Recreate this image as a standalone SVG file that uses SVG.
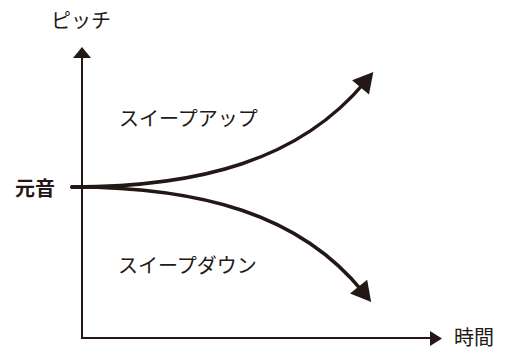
<svg xmlns="http://www.w3.org/2000/svg" width="505" height="351" viewBox="0 0 505 351">
<style>
.lbl{font-family:"Noto Sans CJK JP","Noto Sans CJK SC",sans-serif;font-size:20px;fill:#231815}
.axis{stroke:#231815;stroke-width:2;fill:none}
.curve{stroke:#231815;stroke-width:3.5;fill:none;stroke-linecap:round}
.head{fill:#231815}
</style>
<defs>
<marker id="arr" markerUnits="userSpaceOnUse" markerWidth="40" markerHeight="40" refX="0" refY="0" viewBox="-20 -20 40 40" orient="auto" overflow="visible">
<path class="head" d="M-7,-11 L13,0 L-7,11 Z"/>
</marker>
</defs>
<rect width="505" height="351" fill="#fff"/>
<g id="axes">
<polyline class="axis" points="82,56 82,338 431,338"/>
<polygon class="head" points="82,47 73,58 91,58"/>
<polygon class="head" points="442,338.5 430,331 430,346"/>
</g>
<g id="connectors">
<line class="curve" x1="72" y1="187" x2="84" y2="187"/>
<path id="sweep-up" class="curve" d="M72,187 C200,187 300,160 365,82" marker-end="url(#arr)"/>
<path id="sweep-down" class="curve" d="M72,187 C200,187 300,214 363,292" marker-end="url(#arr)"/>
</g>
<g id="pitch-label"><text class="lbl" x="51" y="28">ピッチ</text></g>
<g id="time-label"><text class="lbl" x="454" y="345" font-size="20.5">時間</text></g>
<g id="original-label"><text class="lbl" x="15" y="196" font-weight="bold" font-size="23.5">元音</text></g>
<g id="sweep-up-label"><text class="lbl" x="119" y="126">スイープアップ</text></g>
<g id="sweep-down-label"><text class="lbl" x="118" y="273">スイープダウン</text></g>
</svg>
